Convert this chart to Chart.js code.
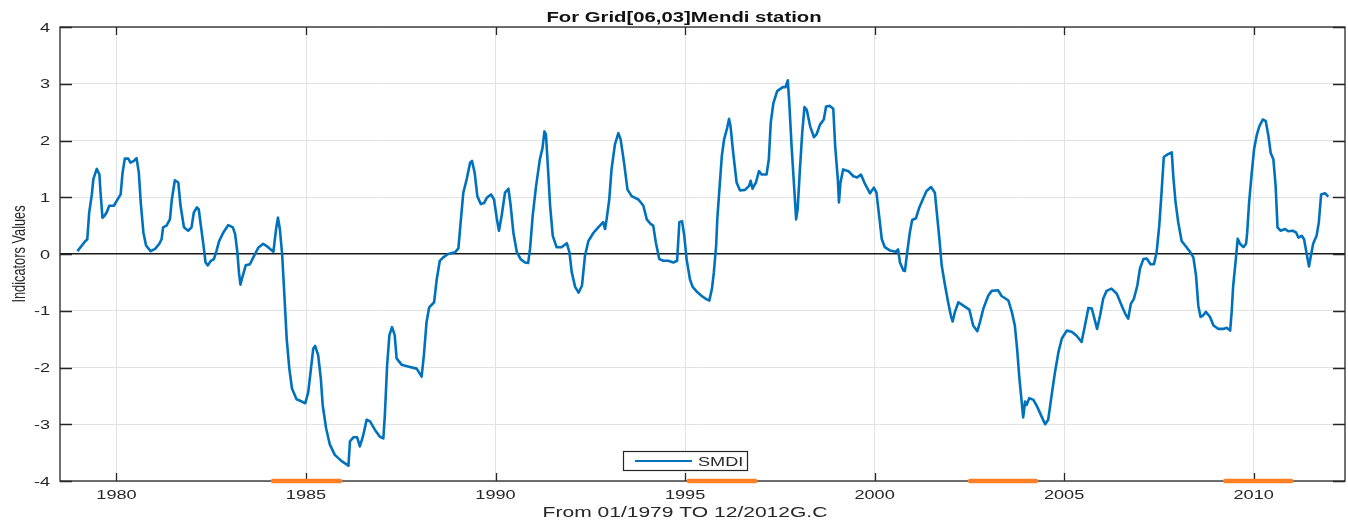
<!DOCTYPE html>
<html>
<head>
<meta charset="utf-8">
<script src="https://cdn.jsdelivr.net/npm/chart.js@4/dist/chart.umd.min.js"></script>
<style>
  html, body { margin: 0; padding: 0; background: #fff; }
  #wrap { width: 1348px; height: 523px; }
</style>
</head>
<body>
<div id="wrap"><canvas id="smdi-chart" width="1348" height="523"></canvas></div>
<script>
// Serie SMDI (anno decimale, valore)
const smdiYears = [
  1978.97, 1979.17, 1979.23, 1979.28, 1979.35, 1979.39, 1979.48, 1979.55, 1979.58, 1979.63, 1979.68, 1979.74, 1979.81, 1979.93,
  1980.01, 1980.11, 1980.16, 1980.22, 1980.31, 1980.37, 1980.46, 1980.53, 1980.59, 1980.64, 1980.71, 1980.78, 1980.90,
  1981.02, 1981.13, 1981.19, 1981.23, 1981.32, 1981.41, 1981.46, 1981.54, 1981.63, 1981.69, 1981.78, 1981.89, 1981.98,
  1982.04, 1982.12, 1982.17, 1982.22, 1982.29, 1982.35, 1982.41, 1982.49, 1982.57, 1982.64, 1982.71, 1982.82, 1982.95,
  1983.07, 1983.13, 1983.19, 1983.23, 1983.27, 1983.32, 1983.41, 1983.52, 1983.61, 1983.74, 1983.87, 1984.00,
  1984.14, 1984.21, 1984.26, 1984.31, 1984.37, 1984.42, 1984.49, 1984.56, 1984.63, 1984.75, 1984.89, 1984.98,
  1985.06, 1985.12, 1985.19, 1985.24, 1985.32, 1985.39, 1985.44, 1985.53, 1985.63, 1985.76, 1985.94,
  1986.12, 1986.16, 1986.25, 1986.35, 1986.42, 1986.50, 1986.60, 1986.69, 1986.82, 1986.95,
  1987.04, 1987.08, 1987.14, 1987.20, 1987.27, 1987.34, 1987.39, 1987.52, 1987.74, 1987.92,
  1988.05, 1988.11, 1988.18, 1988.25, 1988.38, 1988.45, 1988.53, 1988.62, 1988.75, 1988.93,
  1989.02, 1989.08, 1989.15, 1989.24, 1989.33, 1989.38, 1989.45, 1989.52, 1989.61, 1989.70, 1989.77, 1989.88, 1989.96,
  1990.03, 1990.09, 1990.16, 1990.25, 1990.34, 1990.40, 1990.47, 1990.56, 1990.66, 1990.78, 1990.86, 1990.91, 1990.98,
  1991.07, 1991.17, 1991.24, 1991.29, 1991.33, 1991.38, 1991.44, 1991.51, 1991.61, 1991.74, 1991.88, 1991.95,
  1992.01, 1992.10, 1992.19, 1992.28, 1992.36, 1992.45, 1992.58, 1992.71, 1992.84, 1992.89, 1992.93,
  1993.00, 1993.06, 1993.15, 1993.24, 1993.30, 1993.39, 1993.48, 1993.59, 1993.77, 1993.90, 1993.99,
  1994.09, 1994.16, 1994.23, 1994.32, 1994.43, 1994.56, 1994.69, 1994.79, 1994.85, 1994.92, 1994.98,
  1995.04, 1995.13, 1995.20, 1995.32, 1995.44, 1995.57, 1995.64, 1995.71, 1995.76, 1995.82, 1995.85, 1995.90, 1995.97,
  1996.03, 1996.11, 1996.16, 1996.20, 1996.27, 1996.36, 1996.45, 1996.58, 1996.69, 1996.73, 1996.78, 1996.87, 1996.95,
  1997.02, 1997.15, 1997.21, 1997.26, 1997.33, 1997.43, 1997.58, 1997.65, 1997.71, 1997.75, 1997.81, 1997.87, 1997.93, 1997.97,
  1998.03, 1998.09, 1998.15, 1998.21, 1998.30, 1998.40, 1998.47, 1998.56, 1998.66, 1998.72, 1998.82, 1998.91, 1998.96,
  1999.03, 1999.06, 1999.10, 1999.17, 1999.31, 1999.44, 1999.54, 1999.64, 1999.75, 1999.88, 1999.98,
  2000.05, 2000.12, 2000.19, 2000.27, 2000.41, 2000.56, 2000.62, 2000.67, 2000.76, 2000.80, 2000.86, 2000.93, 2000.99,
  2001.09, 2001.18, 2001.27, 2001.37, 2001.49, 2001.59, 2001.65, 2001.71, 2001.77, 2001.86, 2001.94,
  2002.01, 2002.06, 2002.12, 2002.21, 2002.34, 2002.50, 2002.60, 2002.71, 2002.78, 2002.87,
  2003.00, 2003.09, 2003.26, 2003.35, 2003.53, 2003.62, 2003.70, 2003.76, 2003.82, 2003.88, 2003.92, 2003.97,
  2004.01, 2004.08, 2004.19, 2004.29, 2004.41, 2004.50, 2004.58, 2004.67, 2004.76, 2004.85, 2004.94,
  2005.07, 2005.20, 2005.33, 2005.46, 2005.55, 2005.64, 2005.73, 2005.87, 2005.95,
  2006.03, 2006.12, 2006.25, 2006.39, 2006.52, 2006.61, 2006.69, 2006.76, 2006.84, 2006.93,
  2007.00, 2007.09, 2007.18, 2007.28, 2007.37, 2007.44, 2007.51, 2007.57, 2007.63, 2007.72, 2007.84, 2007.88, 2007.94,
  2008.01, 2008.10, 2008.23, 2008.32, 2008.41, 2008.48, 2008.54, 2008.60, 2008.67, 2008.74, 2008.85, 2008.94,
  2009.07, 2009.20, 2009.29, 2009.38, 2009.42, 2009.46, 2009.53, 2009.58, 2009.64, 2009.73, 2009.80, 2009.83, 2009.88, 2009.95,
  2010.01, 2010.08, 2010.15, 2010.24, 2010.32, 2010.39, 2010.45, 2010.52, 2010.58, 2010.63, 2010.71, 2010.83, 2010.91,
  2011.03, 2011.12, 2011.18, 2011.27, 2011.33, 2011.40, 2011.46, 2011.51, 2011.57, 2011.66, 2011.72, 2011.78, 2011.88, 2011.97
];
const smdiValues = [
  0.05, 0.22, 0.26, 0.73, 1.05, 1.32, 1.50, 1.40, 1.08, 0.64, 0.67, 0.73, 0.85, 0.85,
  0.94, 1.05, 1.43, 1.68, 1.68, 1.61, 1.64, 1.69, 1.43, 0.91, 0.38, 0.15, 0.05,
  0.09, 0.18, 0.26, 0.47, 0.50, 0.61, 0.96, 1.30, 1.26, 0.85, 0.47, 0.41, 0.47,
  0.73, 0.82, 0.79, 0.53, 0.18, -0.15, -0.20, -0.12, -0.09, 0.06, 0.23, 0.38, 0.51,
  0.47, 0.35, 0.03, -0.32, -0.54, -0.41, -0.20, -0.18, -0.06, 0.11, 0.18, 0.12,
  0.04, 0.44, 0.64, 0.44, 0.00, -0.61, -1.49, -2.02, -2.37, -2.56, -2.60, -2.63,
  -2.43, -2.08, -1.67, -1.62, -1.78, -2.19, -2.66, -3.07, -3.36, -3.54, -3.65,
  -3.73, -3.30, -3.23, -3.23, -3.39, -3.22, -2.92, -2.95, -3.10, -3.22,
  -3.25, -2.84, -1.96, -1.43, -1.29, -1.43, -1.84, -1.95, -1.99, -2.02,
  -2.16, -1.78, -1.20, -0.94, -0.85, -0.44, -0.12, -0.06, 0.00, 0.03,
  0.10, 0.56, 1.08, 1.32, 1.61, 1.64, 1.43, 1.02, 0.88, 0.90, 0.99, 1.05, 0.96,
  0.64, 0.41, 0.67, 1.08, 1.15, 0.85, 0.38, 0.04, -0.09, -0.15, -0.16, 0.09, 0.67,
  1.20, 1.67, 1.87, 2.16, 2.11, 1.55, 0.85, 0.32, 0.12, 0.12, 0.19, 0.03,
  -0.32, -0.58, -0.68, -0.56, -0.03, 0.23, 0.37, 0.47, 0.56, 0.44, 0.61,
  0.96, 1.49, 1.93, 2.13, 2.02, 1.61, 1.14, 1.02, 0.96, 0.85, 0.61,
  0.53, 0.50, 0.20, -0.09, -0.12, -0.12, -0.15, -0.12, 0.56, 0.58, 0.32,
  -0.09, -0.45, -0.58, -0.67, -0.74, -0.80, -0.82, -0.61, -0.32, 0.15, 0.61, 1.08, 1.73,
  2.02, 2.22, 2.38, 2.25, 1.78, 1.26, 1.12, 1.13, 1.20, 1.29, 1.15, 1.26, 1.46,
  1.40, 1.40, 1.67, 2.31, 2.66, 2.87, 2.94, 2.94, 3.06, 2.66, 1.90, 1.26, 0.61, 0.79,
  1.49, 2.13, 2.59, 2.54, 2.25, 2.06, 2.11, 2.28, 2.37, 2.60, 2.61, 2.56, 1.90,
  1.32, 0.91, 1.26, 1.49, 1.46, 1.37, 1.35, 1.40, 1.23, 1.07, 1.17,
  1.08, 0.67, 0.26, 0.12, 0.06, 0.04, 0.08, -0.15, -0.29, -0.30, 0.03, 0.38, 0.60,
  0.63, 0.82, 0.96, 1.11, 1.18, 1.08, 0.67, 0.26, -0.20, -0.56, -0.85,
  -1.08, -1.19, -1.02, -0.85, -0.91, -0.98, -1.26, -1.36, -1.20, -0.96,
  -0.73, -0.65, -0.64, -0.74, -0.82, -1.02, -1.26, -1.67, -2.19, -2.60, -2.88, -2.60,
  -2.66, -2.54, -2.57, -2.69, -2.87, -3.00, -2.92, -2.49, -2.08, -1.73, -1.49,
  -1.35, -1.37, -1.44, -1.55, -1.26, -0.95, -0.96, -1.32, -1.08,
  -0.79, -0.65, -0.61, -0.70, -0.91, -1.05, -1.14, -0.88, -0.79, -0.56,
  -0.26, -0.09, -0.08, -0.18, -0.18, 0.03, 0.50, 1.08, 1.71, 1.75, 1.79, 1.37, 0.91,
  0.56, 0.23, 0.12, 0.04, -0.06, -0.38, -0.91, -1.11, -1.08, -1.02, -1.11, -1.26,
  -1.32, -1.32, -1.30, -1.35, -1.02, -0.56, -0.09, 0.27, 0.18, 0.12, 0.18, 0.38, 0.91, 1.43,
  1.84, 2.09, 2.25, 2.37, 2.34, 2.08, 1.78, 1.67, 1.20, 0.47, 0.41, 0.44, 0.40,
  0.41, 0.38, 0.29, 0.32, 0.26, 0.00, -0.22, -0.03, 0.18, 0.32, 0.56, 1.05, 1.07, 1.01
];

// Periodi evidenziati in arancione sull'asse inferiore
const droughtStarts = [1984.13, 1995.10, 2002.52, 2009.25];
const droughtEnds = [1985.90, 1996.85, 2004.26, 2010.99];
const droughtLevel = -4;

// Assi
const xTicks = [1980, 1985, 1990, 1995, 2000, 2005, 2010];
const yTicks = [-4, -3, -2, -1, 0, 1, 2, 3, 4];
const xMin = 1978.51, xMax = 2012.41;

const chartTitle = 'For Grid[06,03]Mendi station';
const xLabel = 'From 01/1979 TO 12/2012G.C';
const yLabel = 'Indicators Values';

const FONT = '"Liberation Sans", Arial, sans-serif';
const STRETCH = 1.45;   // il riferimento ha il testo allargato in orizzontale
const INK = '#262626';

if (smdiYears.length !== smdiValues.length) {
  console.warn('lunghezze diverse', smdiYears.length, smdiValues.length);
}

const smdiData = smdiYears.map((x, i) => ({ x: x, y: smdiValues[i] }));
const droughtData = [];
droughtStarts.forEach((s, i) => {
  droughtData.push({ x: s, y: droughtLevel }, { x: droughtEnds[i], y: droughtLevel }, { x: droughtEnds[i], y: null });
});

function stretchedText(ctx, text, x, y, font, align, color) {
  ctx.save();
  ctx.translate(x, y);
  ctx.scale(STRETCH, 1);
  ctx.font = font;
  ctx.fillStyle = color;
  ctx.textAlign = align;
  ctx.textBaseline = 'alphabetic';
  ctx.fillText(text, 0, 0);
  ctx.restore();
}

// Box in stile MATLAB (sotto le serie)
const boxPlugin = {
  id: 'matlabBox',
  beforeDatasetsDraw(chart) {
    const { ctx, chartArea: a } = chart;
    ctx.save();
    ctx.strokeStyle = INK;
    ctx.lineWidth = 1.3;
    ctx.strokeRect(a.left, a.top, a.right - a.left, a.bottom - a.top);

    // tacche verso l'interno
    const xs = chart.scales.x, ys = chart.scales.y;
    ctx.beginPath();
    xTicks.forEach(v => {
      const px = Math.round(xs.getPixelForValue(v)) + 0.5;
      ctx.moveTo(px, a.bottom); ctx.lineTo(px, a.bottom - 8);
      ctx.moveTo(px, a.top); ctx.lineTo(px, a.top + 8);
    });
    yTicks.forEach(v => {
      const py = Math.round(ys.getPixelForValue(v)) + 0.5;
      ctx.moveTo(a.left, py); ctx.lineTo(a.left + 12, py);
      ctx.moveTo(a.right, py); ctx.lineTo(a.right - 12, py);
    });
    ctx.stroke();
    ctx.restore();
  },
  afterDraw(chart) {
    const { ctx } = chart;
    const xs = chart.scales.x, ys = chart.scales.y;

    // etichette dei tick
    xTicks.forEach(v => {
      stretchedText(ctx, String(v), xs.getPixelForValue(v), 499, '12.5px ' + FONT, 'center', INK);
    });
    yTicks.forEach(v => {
      stretchedText(ctx, String(v), 50, ys.getPixelForValue(v) + 4.5, '12.5px ' + FONT, 'right', INK);
    });

    // titolo ed etichette degli assi
    stretchedText(ctx, chartTitle, 684, 22, 'bold 14px ' + FONT, 'center', '#111');
    stretchedText(ctx, xLabel, 685, 517, '14.5px ' + FONT, 'center', INK);

    ctx.save();
    ctx.translate(25, 254);
    ctx.scale(STRETCH, 1);
    ctx.rotate(-Math.PI / 2);
    ctx.font = '12.8px ' + FONT;
    ctx.fillStyle = INK;
    ctx.textAlign = 'center';
    ctx.textBaseline = 'alphabetic';
    ctx.fillText(yLabel, 0, 0);
    ctx.restore();

    // legenda
    const ds = chart.data.datasets[0];
    ctx.save();
    ctx.fillStyle = '#fff';
    ctx.fillRect(623, 451, 124, 19);
    ctx.strokeStyle = INK;
    ctx.lineWidth = 1.2;
    ctx.strokeRect(623.5, 451.5, 124, 19);
    ctx.strokeStyle = ds.borderColor;
    ctx.lineWidth = 2;
    ctx.beginPath();
    ctx.moveTo(635, 461);
    ctx.lineTo(692, 461);
    ctx.stroke();
    ctx.restore();
    stretchedText(ctx, ds.label, 698, 465.5, '12.5px ' + FONT, 'left', INK);
  }
};

new Chart(document.getElementById('smdi-chart'), {
  type: 'line',
  data: {
    datasets: [
      {
        label: 'SMDI',
        data: smdiData,
        borderColor: '#0072BD',
        borderWidth: 2.6,
        borderJoinStyle: 'round',
        pointRadius: 0,
        tension: 0,
        fill: false
      },
      {
        label: 'drought',
        data: droughtData,
        borderColor: '#FF7F27',
        borderWidth: 4.5,
        borderCapStyle: 'round',
        pointRadius: 0,
        spanGaps: false,
        clip: false,
        fill: false
      }
    ]
  },
  options: {
    responsive: false,
    animation: false,
    devicePixelRatio: 1,
    layout: { padding: { left: 60, top: 27, right: 3, bottom: 42 } },
    plugins: {
      legend: { display: false },
      tooltip: { enabled: false },
      title: { display: false }
    },
    scales: {
      x: {
        type: 'linear',
        min: xMin,
        max: xMax,
        afterBuildTicks: axis => { axis.ticks = xTicks.map(v => ({ value: v })); },
        afterFit: axis => { axis.height = 0; },
        ticks: { display: false },
        border: { display: false },
        grid: { drawTicks: false, color: '#e2e2e2', lineWidth: 1 }
      },
      y: {
        type: 'linear',
        min: -4,
        max: 4,
        afterBuildTicks: axis => { axis.ticks = yTicks.map(v => ({ value: v })); },
        afterFit: axis => { axis.width = 0; },
        ticks: { display: false },
        border: { display: false },
        grid: {
          drawTicks: false,
          color: c => c.tick && c.tick.value === 0 ? '#1a1a1a' : '#e2e2e2',
          lineWidth: c => c.tick && c.tick.value === 0 ? 1.4 : 1
        }
      }
    }
  },
  plugins: [boxPlugin]
});
</script>
</body>
</html>
